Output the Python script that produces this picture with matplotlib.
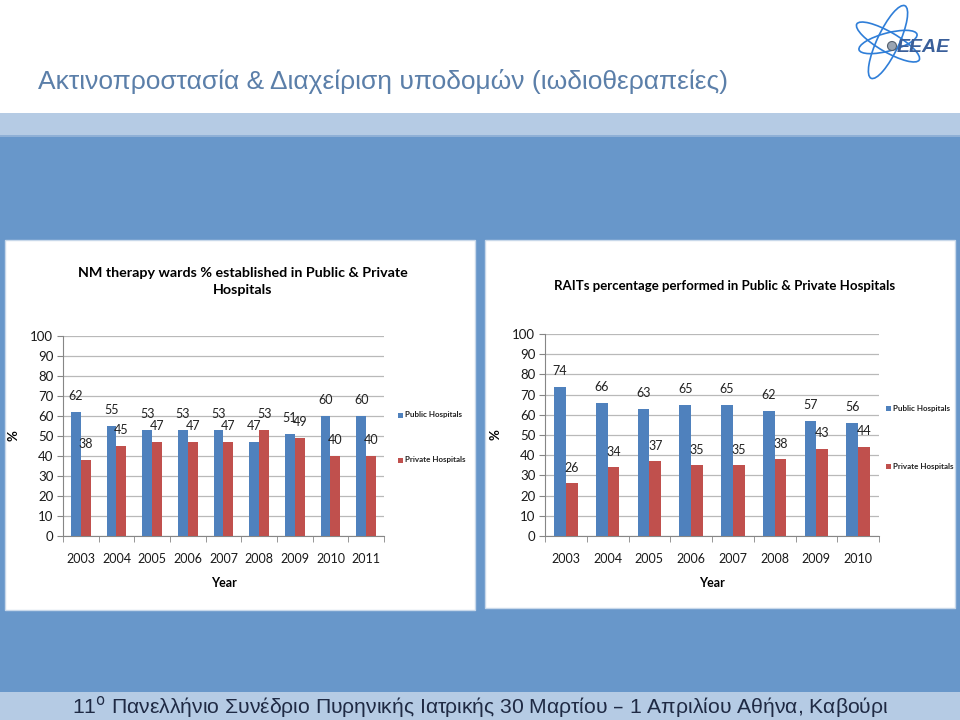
import numpy as np
import matplotlib.pyplot as plt
from matplotlib.patches import Rectangle, Ellipse

# datos de las dos gráficas
years_nm = ['2003', '2004', '2005', '2006', '2007', '2008', '2009', '2010', '2011']
public_nm = [62, 55, 53, 53, 53, 47, 51, 60, 60]
private_nm = [38, 45, 47, 47, 47, 53, 49, 40, 40]

years_rait = ['2003', '2004', '2005', '2006', '2007', '2008', '2009', '2010']
public_rait = [74, 66, 63, 65, 65, 62, 57, 56]
private_rait = [26, 34, 37, 35, 35, 38, 43, 44]

BLUE = '#4f81bd'
RED = '#c0504d'
FONT = ['Lato', 'DejaVu Sans']
SLIDE_FONT = ['Liberation Sans', 'DejaVu Sans']

fig = plt.figure(figsize=(9.6, 7.2), dpi=100)

# fondo de la diapositiva
def rect_px(x, y, w, h, color, z=-5, ec='none'):
    fig.patches.append(Rectangle((x / 960, 1 - (y + h) / 720), w / 960, h / 720,
                                 transform=fig.transFigure, facecolor=color,
                                 edgecolor=ec, zorder=z))

rect_px(0, 113, 960, 23, '#b5cbe4')
rect_px(0, 135, 960, 2, '#8fb0d6')
rect_px(0, 137, 960, 555, '#6897ca')
rect_px(0, 692, 960, 28, '#b5cbe4')
rect_px(5, 240, 470, 370, 'white', z=-4, ec='#c8d8ea')
rect_px(485, 240, 470, 368, 'white', z=-4, ec='#c8d8ea')

fig.text(38 / 960, 1 - 82 / 720, 'Ακτινοπροστασία & Διαχείριση υποδομών (ιωδιοθεραπείες)',
         fontsize=19, color='#5b7fa9', va='center', ha='left', family=SLIDE_FONT)
fig.text(480 / 960, 1 - 707 / 720,
         r'11$^{\mathrm{o}}$ Πανελλήνιο Συνέδριο Πυρηνικής Ιατρικής 30 Μαρτίου – 1 Απριλίου Αθήνα, Καβούρι',
         fontsize=15.2, color='#1f2a44', va='center', ha='center', family=SLIDE_FONT)

# logo aproximado
logo = fig.add_axes([850 / 960, 1 - 84 / 720, 110 / 960, 84 / 720])
logo.set_xlim(0, 110)
logo.set_ylim(0, 84)
logo.axis('off')
for ang, w, h in [(65, 80, 22), (-30, 72, 20), (15, 60, 18)]:
    logo.add_patch(Ellipse((38, 42), w, h, angle=ang, fill=False, ec='#2f7ed8', lw=1.2))
logo.add_patch(Ellipse((42, 38), 9, 9, fc='#9aa5b3', ec='#55606e', lw=0.8))
logo.text(47, 36, 'ΕΕΑΕ', fontsize=14, fontweight='bold', style='italic',
          color='#3a5f9a', va='center', ha='left', family=SLIDE_FONT)


def bar_chart(rect, years, pub, priv, title, title_y, title_x, title_size,
              leg_x, leg_y1, leg_y2):
    ax = fig.add_axes(rect)
    x = np.arange(len(years))
    w = 0.28
    b1 = ax.bar(x - w / 2, pub, w, color=BLUE, zorder=3)
    b2 = ax.bar(x + w / 2, priv, w, color=RED, zorder=3)
    for bars in (b1, b2):
        for b in bars:
            ax.annotate(f'{b.get_height():.0f}', (b.get_x() + b.get_width() / 2, b.get_height()),
                        xytext=(0, 7), textcoords='offset points', ha='center', va='bottom',
                        fontsize=9, color='#222222', family=FONT)
    ax.set_xlim(-0.5, len(years) - 0.5)
    ax.set_ylim(0, 100)
    ax.set_yticks(np.arange(0, 101, 10))
    ax.set_xticks(x)
    ax.set_xticklabels(years)
    ax.set_xticks(np.arange(-0.5, len(years)), minor=True)
    ax.tick_params(axis='x', which='major', length=0, pad=12, labelsize=9)
    ax.tick_params(axis='x', which='minor', length=4, color='#868686', direction='out')
    ax.tick_params(axis='y', length=4, color='#868686', labelsize=9.5, pad=3)
    for lab in ax.get_xticklabels() + ax.get_yticklabels():
        lab.set_family(FONT)
        lab.set_color('#1a1a1a')
    ax.grid(axis='y', color='#b9b9b9', lw=0.9, zorder=0)
    for s in ['top', 'right']:
        ax.spines[s].set_visible(False)
    ax.spines['left'].set_color('#868686')
    ax.spines['bottom'].set_color('#868686')
    ax.set_facecolor('white')
    ax.set_xlabel('Year', fontsize=9, fontweight='bold', family=FONT, labelpad=9)
    ax.set_ylabel('%', fontsize=9.5, fontweight='bold', family=FONT, labelpad=8)
    fig.text(title_x / 960, 1 - title_y / 720, title, fontsize=title_size, fontweight='bold',
             ha='center', va='center', family=FONT, linespacing=1.5)
    for y, c, lab in [(leg_y1, BLUE, 'Public Hospitals'), (leg_y2, RED, 'Private Hospitals')]:
        fig.patches.append(Rectangle((leg_x / 960, 1 - (y + 2.5) / 720), 5 / 960, 5 / 720,
                                     transform=fig.transFigure, facecolor=c, zorder=5))
        fig.text((leg_x + 7) / 960, 1 - y / 720, lab, fontsize=5.8, fontweight='bold',
                 va='center', ha='left', family=FONT, color='#222222')
    return ax


bar_chart([63 / 960, 184 / 720, 321 / 960, 200 / 720], years_nm, public_nm, private_nm,
          'NM therapy wards % established in Public & Private\nHospitals', 282, 243, 10.3,
          398, 415, 460)
bar_chart([545 / 960, 184 / 720, 334 / 960, 202 / 720], years_rait, public_rait, private_rait,
          'RAITs percentage performed in Public & Private Hospitals', 286, 725, 9.5,
          886, 408, 466)

fig.savefig('out.png', dpi=100)
